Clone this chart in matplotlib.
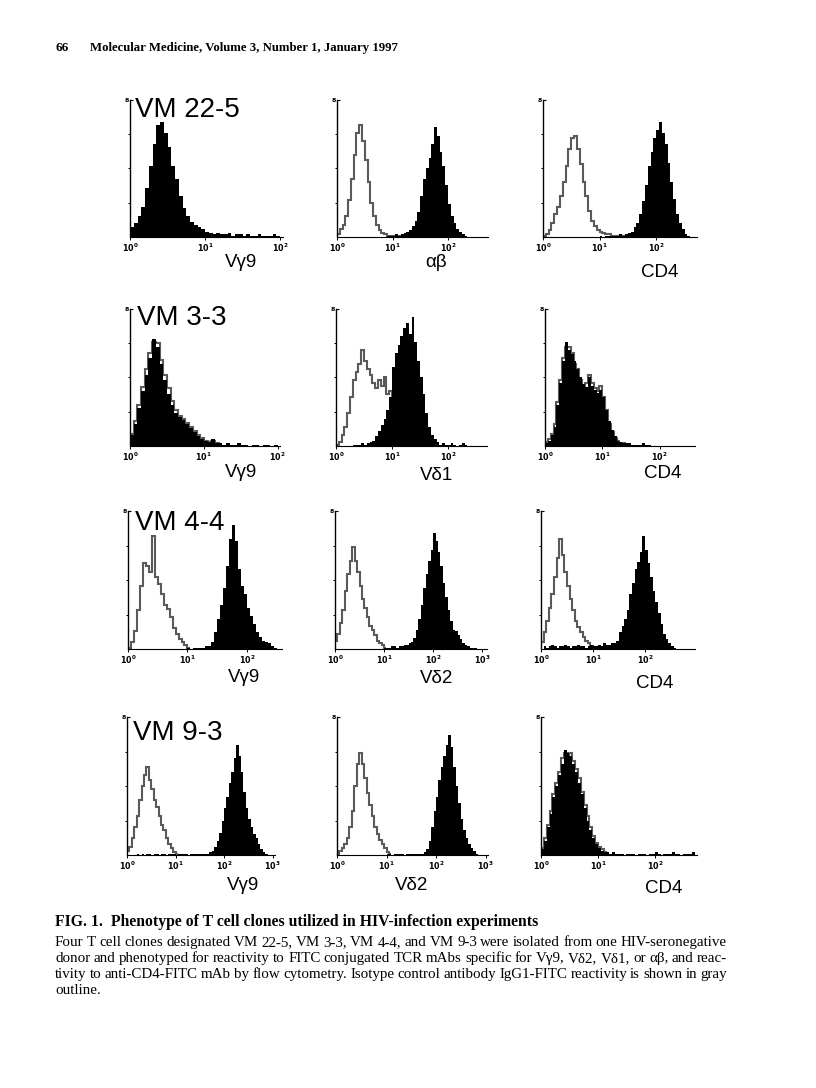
import matplotlib
matplotlib.use("Agg")
import matplotlib.pyplot as plt
import numpy as np

# channel width of every histogram, in log10 decades
BIN = 0.05

# ---- histogram data (percent of full scale per channel) ----
# each *_x0 is the decade where the first channel starts
# row 1: VM 22-5
r1c1_fill_x0 = 0.0
r1c1_fill = [7, 10, 15, 22, 36, 52, 68, 82, 84, 76, 66, 52, 42, 30, 21, 15, 11, 9, 7, 6,
             4, 3, 2, 3, 2, 2, 3, 1, 2, 2, 1, 2, 1, 1, 2, 1, 1, 1, 2, 1]
r1c2_ctrl_x0 = 0.0
r1c2_ctrl = [2, 6, 9, 15, 27, 42, 60, 76, 82, 70, 56, 40, 25, 15, 9, 5, 3, 2, 1, 1, 0, 1, 1, 0, 1]
r1c2_fill_x0 = 0.9
r1c2_fill = [1, 1, 1, 2, 1, 2, 3, 4, 5, 8, 12, 18, 30, 42, 50, 58, 68, 80, 74, 62, 52, 38, 24,
             15, 10, 6, 4, 2, 1]
r1c3_ctrl_x0 = 0.0
r1c3_ctrl = [1, 2, 5, 10, 17, 22, 30, 40, 52, 64, 72, 74, 64, 53, 40, 30, 19, 12, 8, 5, 4, 3,
             2, 2, 1, 1, 1, 0, 1, 1]
r1c3_fill_x0 = 1.0
r1c3_fill = [1, 0, 1, 1, 1, 1, 1, 2, 1, 2, 3, 4, 7, 10, 17, 26, 38, 52, 62, 72, 78, 84, 76, 68,
             54, 40, 28, 17, 10, 6, 2, 1]

# row 2: VM 3-3
r2c1_ctrl_x0 = 0.0
r2c1_ctrl = [9, 18, 30, 43, 56, 68, 76, 75, 63, 52, 42, 33, 26, 22, 20, 17, 14, 11, 8, 6, 4, 3,
             4, 2, 1]
r2c1_fill_x0 = 0.0
r2c1_fill = [8, 16, 28, 40, 52, 64, 78, 72, 60, 48, 38, 30, 24, 21, 19, 16, 13, 10, 7, 5, 4, 3,
             5, 2, 2, 1, 2, 1, 1, 2, 1, 1, 0, 1, 1, 0, 1, 1, 0, 1]
r2c2_ctrl_x0 = 0.0
r2c2_ctrl = [1, 3, 8, 14, 24, 36, 48, 54, 60, 70, 62, 56, 52, 46, 42, 48, 44, 50, 38, 40, 32,
             22, 14, 8, 4, 2, 1]
r2c2_fill_x0 = 0.3
r2c2_fill = [1, 1, 1, 2, 1, 2, 3, 4, 7, 11, 15, 20, 26, 36, 58, 68, 74, 80, 86, 90, 82, 94, 76,
             62, 50, 38, 24, 14, 8, 5, 3, 1, 2, 1, 1, 2, 1, 0, 1, 2, 1]
r2c3_ctrl_x0 = 0.0
r2c3_ctrl = [3, 5, 9, 16, 32, 48, 64, 72, 72, 68, 60, 56, 48, 44, 46, 52, 46, 42, 40, 44, 36,
             26, 16, 10, 6, 4, 2, 2, 1]
r2c3_fill_x0 = 0.0
r2c3_fill = [2, 4, 8, 14, 30, 46, 62, 76, 70, 67, 62, 56, 50, 45, 43, 50, 44, 41, 39, 41, 36,
             26, 18, 12, 7, 4, 3, 2, 2, 2, 1, 1, 1, 1, 2, 1, 1]

# row 3: VM 4-4
r3c1_ctrl_x0 = 0.0
r3c1_ctrl = [1, 5, 13, 28, 46, 62, 60, 56, 82, 52, 47, 40, 32, 29, 23, 15, 11, 7, 5, 3, 1]
r3c1_fill_x0 = 1.0
r3c1_fill = [1, 0, 1, 1, 1, 1, 2, 2, 5, 12, 22, 32, 44, 60, 80, 90, 78, 58, 46, 40, 30, 24, 18,
             12, 9, 6, 5, 4, 2, 1]
r3c2_ctrl_x0 = 0.0
r3c2_ctrl = [6, 11, 19, 28, 42, 54, 64, 74, 64, 56, 46, 36, 30, 23, 17, 14, 10, 6, 4, 3, 1]
r3c2_fill_x0 = 1.0
r3c2_fill = [1, 1, 1, 2, 2, 1, 2, 2, 3, 3, 4, 5, 8, 14, 22, 32, 44, 54, 64, 72, 84, 78, 70, 60,
             48, 38, 28, 20, 14, 13, 10, 7, 4, 3, 2, 1, 1, 1]
r3c3_ctrl_x0 = 0.0
r3c3_ctrl = [5, 12, 20, 30, 40, 52, 66, 80, 68, 56, 46, 36, 28, 20, 16, 12, 9, 6, 4, 2, 1]
r3c3_fill_x0 = 0.05
r3c3_fill = [2, 1, 2, 3, 2, 1, 2, 2, 3, 2, 1, 2, 2, 3, 2, 2, 1, 2, 3, 2, 2, 3, 2, 4, 3, 3, 4, 4,
             6, 12, 17, 22, 28, 40, 48, 58, 63, 70, 82, 72, 62, 52, 42, 34, 26, 18, 11, 7, 4, 2, 1]

# row 4: VM 9-3
r4c1_ctrl_x0 = 0.0
r4c1_ctrl = [3, 6, 12, 20, 28, 40, 50, 58, 64, 54, 48, 40, 35, 28, 22, 18, 12, 8, 5, 2, 1]
r4c1_fill_x0 = 0.2
r4c1_fill = [1, 0, 1, 0, 1, 1, 0, 1, 1, 0, 1, 1, 0, 1, 1, 1, 0, 1, 1, 1, 1, 0, 1, 1, 1, 1, 1, 1,
             1, 1, 2, 3, 6, 10, 16, 25, 34, 42, 52, 60, 70, 80, 72, 60, 46, 34, 26, 20, 15, 12,
             8, 4, 2, 1]
r4c2_ctrl_x0 = 0.0
r4c2_ctrl = [1, 3, 5, 8, 12, 20, 32, 50, 66, 74, 66, 56, 45, 36, 28, 20, 15, 11, 8, 5, 2, 1]
r4c2_fill_x0 = 1.0
r4c2_fill = [1, 1, 0, 1, 1, 1, 1, 0, 1, 1, 1, 1, 1, 1, 1, 2, 4, 10, 20, 32, 42, 54, 64, 72, 80,
             87, 78, 64, 50, 38, 26, 18, 12, 8, 5, 3, 1]
r4c3_ctrl_x0 = 0.0
r4c3_ctrl = [5, 12, 22, 32, 44, 52, 60, 70, 74, 72, 74, 68, 62, 56, 46, 36, 28, 20, 14, 9, 6, 4,
             2, 1]
r4c3_fill_x0 = 0.0
r4c3_fill = [4, 10, 20, 30, 42, 50, 58, 66, 76, 74, 72, 66, 60, 52, 44, 34, 25, 18, 12, 8, 5, 3,
             2, 2, 1, 2, 1, 1, 1, 0, 1, 1, 1, 0, 1, 1, 1, 0, 1, 1, 2, 1, 0, 1, 1, 1, 2, 1, 1, 0,
             1, 1, 1, 2]

clone_names = ["VM 22-5", "VM 3-3", "VM 4-4", "VM 9-3"]
marker_labels = [["Vγ9", "αβ", "CD4"],
                 ["Vγ9", "Vδ1", "CD4"],
                 ["Vγ9", "Vδ2", "CD4"],
                 ["Vγ9", "Vδ2", "CD4"]]
x_decades = [[2.04, 2.72, 2.72],
             [2.03, 2.70, 2.62],
             [2.59, 3.10, 2.96],
             [3.05, 3.05, 2.74]]

ctrl_series = [[None, (r1c2_ctrl_x0, r1c2_ctrl), (r1c3_ctrl_x0, r1c3_ctrl)],
               [(r2c1_ctrl_x0, r2c1_ctrl), (r2c2_ctrl_x0, r2c2_ctrl), (r2c3_ctrl_x0, r2c3_ctrl)],
               [(r3c1_ctrl_x0, r3c1_ctrl), (r3c2_ctrl_x0, r3c2_ctrl), (r3c3_ctrl_x0, r3c3_ctrl)],
               [(r4c1_ctrl_x0, r4c1_ctrl), (r4c2_ctrl_x0, r4c2_ctrl), (r4c3_ctrl_x0, r4c3_ctrl)]]
fill_series = [[(r1c1_fill_x0, r1c1_fill), (r1c2_fill_x0, r1c2_fill), (r1c3_fill_x0, r1c3_fill)],
               [(r2c1_fill_x0, r2c1_fill), (r2c2_fill_x0, r2c2_fill), (r2c3_fill_x0, r2c3_fill)],
               [(r3c1_fill_x0, r3c1_fill), (r3c2_fill_x0, r3c2_fill), (r3c3_fill_x0, r3c3_fill)],
               [(r4c1_fill_x0, r4c1_fill), (r4c2_fill_x0, r4c2_fill), (r4c3_fill_x0, r4c3_fill)]]

# ---- page layout (pixels on the 816x1088 page) ----
W, H = 816, 1088
row_y = [(100, 237), (309, 446), (511, 649), (717, 855)]
col_x = [[(130, 283), (337, 488), (543, 697)],
         [(130, 280), (336, 487), (545, 695)],
         [(128, 282), (335, 487), (541, 695)],
         [(127, 275), (337, 488), (541, 697)]]
title_pos = [(135, 117), (137, 325), (135, 530), (133, 740)]
label_pos = [[(241, 267), (436, 267), (660, 277)],
             [(241, 477), (437, 480), (663, 478)],
             [(244, 682), (437, 683), (655, 688)],
             [(243, 890), (412, 890), (664, 893)]]

SANS = "Liberation Sans"
SERIF = "Liberation Serif"

fig = plt.figure(figsize=(W / 100, H / 100), dpi=100)


def fx(x):
    return x / W


def fy(y):
    return 1 - y / H


def edges(x0, vals):
    return x0 + BIN * np.arange(len(vals) + 1)


for r in range(4):
    y0, y1 = row_y[r]
    for c in range(3):
        x0, x1 = col_x[r][c]
        ax = fig.add_axes([fx(x0), fy(y1), (x1 - x0) / W, (y1 - y0) / H])
        ctrl = ctrl_series[r][c]
        start, vals = fill_series[r][c]
        # gray isotype outline goes under the black filled histogram
        if ctrl is not None:
            cs, cv = ctrl
            ax.stairs(cv, edges(cs, cv), color="#5a5a5a", lw=1.5, baseline=None, zorder=1)
        ax.stairs(vals, edges(start, vals), fill=True, color="black", lw=0, zorder=2)
        xmax = x_decades[r][c]
        ax.set_xlim(0, xmax)
        ax.set_ylim(0, 100)
        for s in ["top", "right"]:
            ax.spines[s].set_visible(False)
        ax.spines["left"].set_linewidth(1.0)
        ax.spines["bottom"].set_linewidth(0.8)
        ticks = list(range(int(np.floor(xmax)) + 1))
        ax.set_xticks(ticks)
        ax.set_xticklabels([r"$\mathbf{10^{%d}}$" % t for t in ticks], fontsize=5.8)
        ax.tick_params(axis="x", length=2, width=0.7, pad=1)
        ax.set_yticks([100])
        ax.set_yticklabels(["8"], fontsize=4.5, fontweight="bold")
        ax.tick_params(axis="y", which="major", direction="in", length=2, width=0.8, pad=0.5)
        ax.set_yticks([25, 50, 75], minor=True)
        ax.tick_params(axis="y", which="minor", direction="out", length=1.8, width=0.7)

    tx, ty = title_pos[r]
    fig.text(fx(tx), fy(ty), clone_names[r], fontsize=20, family=SANS, va="baseline", ha="left")
    for c in range(3):
        lx, ly = label_pos[r][c]
        fig.text(fx(lx), fy(ly), marker_labels[r][c], fontsize=13.5, family=SANS,
                 va="baseline", ha="center")

# ---- running head ----
fig.text(fx(55), fy(51), "66", fontsize=9.5, family=SERIF, fontweight="bold", va="baseline")
fig.text(fx(90), fy(51), "Molecular Medicine, Volume 3, Number 1, January 1997", fontsize=9.2,
         family=SERIF, fontweight="bold", va="baseline")

# ---- caption ----
fig.text(fx(55), fy(926), "FIG. 1.  Phenotype of T cell clones utilized in HIV-infection experiments",
         fontsize=11.3, family=SERIF, fontweight="bold", va="baseline")

caption_lines = [
    "Four T cell clones designated VM 22-5, VM 3-3, VM 4-4, and VM 9-3 were isolated from one HIV-seronegative",
    "donor and phenotyped for reactivity to FITC conjugated TCR mAbs specific for Vγ9, Vδ2, Vδ1, or αβ, and reac-",
    "tivity to anti-CD4-FITC mAb by flow cytometry. Isotype control antibody IgG1-FITC reactivity is shown in gray",
    "outline.",
]
caption_baseline = [946, 962, 978, 994]

renderer = fig.canvas.get_renderer()
for i, line in enumerate(caption_lines):
    words = line.split(" ")
    objs = [fig.text(0, fy(caption_baseline[i]), w, fontsize=10.8, family=SERIF, va="baseline")
            for w in words]
    widths = [o.get_window_extent(renderer).width for o in objs]
    if i < len(caption_lines) - 1 and len(words) > 1:
        gap = (727 - 55 - sum(widths)) / (len(words) - 1)
    else:
        gap = 3
    x = 55
    for o, wd in zip(objs, widths):
        o.set_x(fx(x))
        x += wd + gap

fig.savefig("out.png", dpi=100)
